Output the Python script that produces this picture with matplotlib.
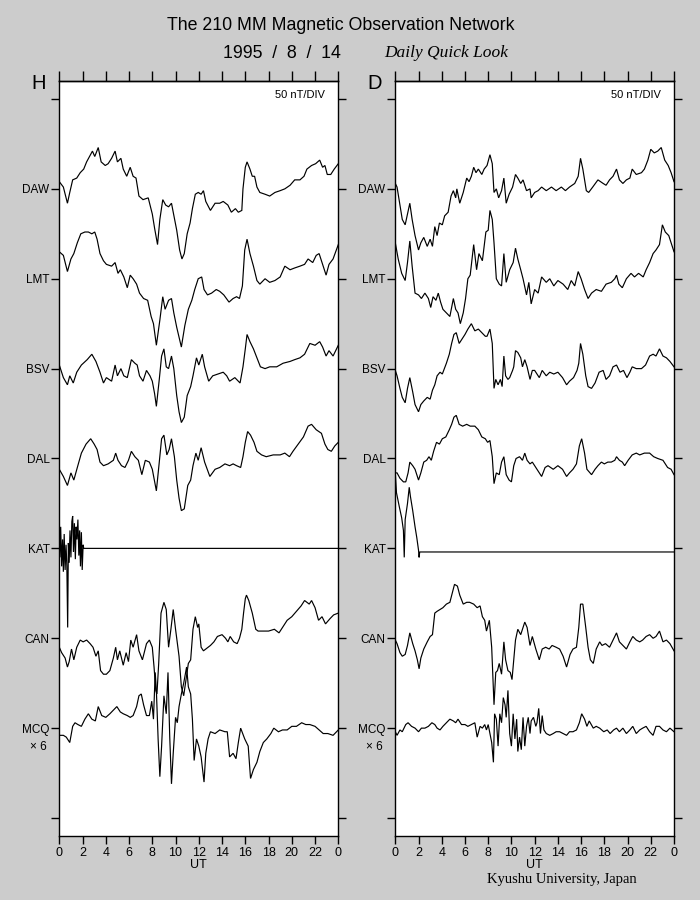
import matplotlib
matplotlib.use('Agg')
import matplotlib.pyplot as plt
import matplotlib.transforms as mtransforms

plt.rcParams['font.family'] = ['Liberation Sans', 'DejaVu Sans']

# ---------------- data ----------------
STATIONS = ['DAW', 'LMT', 'BSV', 'DAL', 'KAT', 'CAN', 'MCQ']
NT_PER_DIV = 50
XTICKS = list(range(0, 25, 2))
XTICK_LABELS = ['0', '2', '4', '6', '8', '10', '12', '14', '16', '18', '20', '22', '0']

# ---- H component (nT deviation from each station's baseline) ----
H_DAW_T = [0, 0.35, 0.7, 0.9, 1.15, 1.5, 1.8, 2.1, 2.35, 2.6, 2.85, 3.05, 3.35, 3.6, 3.95, 4.2, 4.5, 4.8, 5.0, 5.3, 5.5, 5.8, 6.1, 6.35, 6.6, 6.85, 7.2, 7.65, 8.0, 8.2, 8.45, 8.65, 8.9, 9.15, 9.4, 9.65, 9.8, 10.1, 10.35, 10.55, 10.75, 11.0, 11.25, 11.45, 11.7, 11.95, 12.2, 12.4, 12.6, 13.0, 13.4, 13.8, 14.1, 14.5, 14.8, 15.15, 15.4, 15.7, 15.8, 16.0, 16.15, 16.4, 16.6, 16.8, 17.0, 17.25, 17.7, 18.1, 18.55, 19.0, 19.4, 19.85, 20.25, 20.7, 21.05, 21.3, 21.7, 22.05, 22.4, 22.65, 22.85, 23.05, 23.35, 23.65, 24]
H_DAW = [4, 1, -8, -2, 5, 6, 9, 11, 15, 18, 21, 18, 23, 15, 13, 14, 17, 21, 15, 17, 11, 7, 12, 7, 6, -4, -6, -5, -14, -22, -31, -17, -6, -9, -10, -8, -13, -23, -34, -39, -36, -25, -19, -11, -3, -2, -3, -1, -7, -12, -8, -8, -7, -9, -13, -11, -13, -12, 0, 12, 15, 11, 7, 7, 1, -2, -3, -4, -2, -1, 0, 2, 5, 5, 7, 11, 13, 14, 16, 12, 13, 8, 8, 11, 14]

H_LMT_T = [0, 0.35, 0.7, 1.0, 1.25, 1.55, 1.85, 2.2, 2.5, 2.8, 3.05, 3.25, 3.5, 3.8, 4.05, 4.5, 4.8, 5.05, 5.25, 5.55, 5.85, 6.1, 6.35, 6.65, 6.9, 7.25, 7.6, 7.9, 8.1, 8.35, 8.65, 8.9, 9.1, 9.4, 9.65, 9.85, 10.1, 10.5, 10.8, 11.1, 11.4, 11.65, 11.95, 12.25, 12.45, 12.75, 13.1, 13.5, 13.8, 14.15, 14.6, 14.95, 15.25, 15.5, 15.75, 15.95, 16.15, 16.4, 16.7, 17.0, 17.25, 17.7, 18.1, 18.55, 19.0, 19.4, 19.85, 20.25, 20.7, 21.1, 21.4, 21.8, 22.1, 22.35, 22.6, 22.95, 23.2, 23.55, 24]
H_LMT = [15, 13, 4, 11, 14, 20, 25, 26, 26, 25, 26, 22, 14, 10, 8, 7, 9, 3, 5, 1, -5, 2, 0, -3, -8, -11, -12, -21, -25, -37, -23, -10, -17, -12, -11, -19, -27, -38, -26, -17, -12, -6, 0, 1, -6, -9, -8, -6, -7, -9, -13, -11, -10, -11, -4, 16, 22, 14, 7, -1, -3, 0, -2, -1, 1, 7, 5, 6, 7, 8, 11, 9, 13, 14, 9, 2, 8, 11, 19]

H_BSV_T = [0, 0.35, 0.7, 0.9, 1.2, 1.5, 1.9, 2.4, 2.8, 3.15, 3.5, 3.8, 4.05, 4.5, 4.8, 5.0, 5.3, 5.55, 5.85, 6.2, 6.5, 6.7, 6.9, 7.2, 7.5, 7.8, 8.0, 8.2, 8.35, 8.6, 8.8, 9.0, 9.2, 9.4, 9.65, 9.85, 10.1, 10.3, 10.5, 10.75, 11.0, 11.3, 11.5, 11.8, 12.0, 12.3, 12.5, 12.85, 13.2, 13.65, 14.1, 14.4, 14.65, 15.1, 15.55, 15.8, 16.0, 16.15, 16.4, 16.7, 17.0, 17.3, 17.7, 18.1, 18.7, 19.25, 19.85, 20.25, 20.7, 21.1, 21.55, 22.0, 22.4, 22.65, 22.95, 23.2, 23.55, 24]
H_BSV = [2, -5, -9, -4, -8, -2, 2, 5, 8, 4, -2, -8, -5, -7, 2, -4, 0, -4, -5, 5, 3, 2, -4, -7, -1, -4, -7, -14, -21, -6, 7, 11, 1, 0, 7, 0, -15, -24, -30, -27, -15, -10, -4, 6, 2, 8, 1, -7, -4, -3, -2, -4, -7, -5, -8, 1, 11, 19, 15, 11, 6, 1, 0, 1, 1, 3, 4, 5, 6, 8, 14, 13, 15, 12, 7, 10, 7, 13]

H_DAL_T = [0, 0.35, 0.7, 1.0, 1.25, 1.55, 1.9, 2.3, 2.7, 3.0, 3.25, 3.5, 3.8, 4.2, 4.65, 4.85, 5.05, 5.35, 5.65, 5.95, 6.2, 6.5, 6.8, 7.1, 7.4, 7.75, 8.0, 8.35, 8.6, 8.8, 9.0, 9.25, 9.45, 9.65, 9.9, 10.1, 10.3, 10.5, 10.75, 11.05, 11.3, 11.5, 11.75, 11.95, 12.2, 12.5, 12.95, 13.4, 13.8, 14.25, 14.65, 14.95, 15.25, 15.6, 15.8, 16.0, 16.2, 16.45, 16.75, 17.0, 17.4, 17.8, 18.4, 19.0, 19.4, 19.8, 20.1, 20.55, 21.0, 21.4, 21.7, 22.1, 22.55, 22.85, 23.1, 23.4, 23.7, 24]
H_DAL = [-6, -10, -15, -8, -12, -5, 3, 8, 11, 8, 5, -2, -4, -3, -1, 3, -1, -4, -5, -1, 4, 1, -1, -9, -1, -2, -6, -18, -2, 11, 13, 2, 5, 11, 1, -12, -22, -29, -28, -15, -12, -4, 3, -1, 6, -2, -10, -6, -5, -3, -4, -3, -4, -5, 1, 9, 15, 13, 9, 4, 2, 1, 2, 2, 3, 1, 4, 8, 12, 18, 19, 16, 14, 8, 5, 4, 7, 9]

H_KAT_T = [0, 0.05, 0.12, 0.2, 0.28, 0.35, 0.42, 0.5, 0.58, 0.65, 0.72, 0.78, 0.85, 0.92, 1.0, 1.08, 1.15, 1.22, 1.3, 1.38, 1.45, 1.52, 1.6, 1.68, 1.75, 1.82, 1.9, 1.97, 2.05, 2.1, 24]
H_KAT = [17, -5, 12, -10, 5, -13, 8, -12, 2, -10, -44, 3, -8, 10, -5, 15, 18, -2, 14, -6, 12, 5, 16, -4, 10, -10, 9, -12, 2, 0, 0]

H_CAN_T = [0, 0.2, 0.5, 0.7, 0.85, 1.05, 1.25, 1.5, 1.8, 2.05, 2.35, 2.65, 2.9, 3.15, 3.35, 3.55, 3.8, 4.05, 4.35, 4.65, 4.85, 5.0, 5.2, 5.5, 5.75, 5.95, 6.15, 6.35, 6.65, 6.85, 7.15, 7.5, 7.75, 8.0, 8.15, 8.3, 8.4, 8.55, 8.75, 9.0, 9.2, 9.4, 9.6, 9.8, 10.0, 10.3, 10.5, 10.7, 10.9, 11.1, 11.3, 11.5, 11.7, 11.9, 12.0, 12.2, 12.4, 12.6, 13.0, 13.3, 13.6, 14.0, 14.3, 14.5, 14.7, 15.0, 15.3, 15.5, 15.7, 15.85, 16.0, 16.1, 16.3, 16.6, 16.9, 17.1, 17.5, 18.0, 18.5, 18.9, 19.2, 19.6, 20.0, 20.4, 20.8, 21.1, 21.5, 21.7, 22.0, 22.3, 22.6, 22.9, 23.3, 23.6, 24]
H_CAN = [-5, -8, -11, -16, -13, -6, -12, -5, -1, -2, -1, -3, -5, -10, -7, -18, -20, -20, -18, -11, -5, -12, -7, -15, -8, -13, -1, -5, 2, -7, -12, -3, -1, -5, -16, -29, -31, -14, 14, 20, 16, -5, 5, 16, 5, -10, -27, -32, -23, -14, -12, 5, 12, 6, 8, -5, -7, -6, -4, -2, 1, 2, 0, -2, 1, -2, -3, 0, 5, 14, 22, 24, 21, 14, 5, 4, 4, 4, 5, 3, 6, 10, 12, 15, 18, 21, 19, 21, 17, 10, 12, 8, 11, 13, 14]

H_MCQ_T = [0, 0.35, 0.6, 0.9, 1.15, 1.35, 1.6, 1.9, 2.2, 2.5, 2.8, 3.1, 3.35, 3.65, 4.0, 4.35, 4.65, 4.95, 5.25, 5.5, 5.85, 6.1, 6.35, 6.65, 6.85, 7.05, 7.25, 7.5, 7.75, 7.95, 8.1, 8.25, 8.35, 8.5, 8.65, 8.8, 9.0, 9.2, 9.35, 9.5, 9.65, 9.8, 10.0, 10.15, 10.3, 10.5, 10.7, 10.95, 11.1, 11.3, 11.45, 11.6, 11.8, 12.0, 12.2, 12.45, 12.6, 12.8, 13.0, 13.4, 13.8, 14.25, 14.45, 14.65, 14.95, 15.2, 15.4, 15.6, 15.95, 16.25, 16.45, 16.7, 17.0, 17.25, 17.55, 17.85, 18.2, 18.45, 18.85, 19.2, 19.6, 20.0, 20.4, 20.85, 21.2, 21.55, 22.0, 22.35, 22.7, 23.1, 23.55, 24]
H_MCQ = [-4, -4, -5, -8, 1, 3, 2, 1, 5, 8, 5, 4, 12, 7, 6, 8, 10, 12, 9, 8, 7, 6, 7, 12, 18, 19, 13, 7, 7, 15, 5, 31, 21, -6, -27, -10, 18, 8, 31, -5, -31, -14, 6, 3, 12, 19, 25, 34, 23, 19, 5, -18, -6, -10, -16, -30, -14, -6, -2, -3, -1, -2, -2, -16, -14, -17, -8, 0, -6, -10, -28, -23, -19, -13, -8, -6, -3, 0, -2, -1, -1, 1, 1, 3, 2, 2, 1, -1, -3, -3, -4, -1]

# ---- D component ----
D_DAW_T = [0, 0.15, 0.4, 0.6, 0.85, 1.05, 1.25, 1.45, 1.7, 2.0, 2.2, 2.45, 2.75, 3.0, 3.2, 3.4, 3.6, 3.8, 4.05, 4.25, 4.55, 4.8, 5.0, 5.2, 5.3, 5.55, 5.85, 6.15, 6.35, 6.55, 6.75, 6.95, 7.15, 7.45, 7.65, 7.9, 8.15, 8.35, 8.5, 8.7, 8.9, 9.15, 9.35, 9.55, 9.8, 10.1, 10.35, 10.55, 10.8, 11.0, 11.3, 11.6, 11.7, 12.0, 12.3, 12.6, 13.0, 13.45, 13.85, 14.3, 14.65, 15.0, 15.45, 15.75, 15.95, 16.15, 16.45, 16.65, 17.0, 17.45, 17.9, 18.15, 18.45, 18.75, 19.05, 19.3, 19.6, 19.9, 20.2, 20.4, 20.75, 21.2, 21.45, 21.75, 22.0, 22.3, 22.6, 22.9, 23.2, 23.5, 23.75, 24]
D_DAW = [3, 1, -9, -17, -20, -14, -8, -17, -26, -34, -30, -27, -32, -28, -32, -21, -26, -19, -20, -15, -13, -4, -1, -5, 0, -8, -2, 6, 4, 7, 12, 9, 11, 8, 11, 13, 19, 14, -2, 0, -5, -1, 6, -8, -3, 1, 8, 6, 3, 5, -1, 0, -5, -2, -1, 1, -1, 1, -1, 1, -1, 1, 3, 7, 17, 11, -1, -2, 1, 5, 3, 2, 5, 7, 11, 5, 3, 5, 6, 11, 8, 9, 11, 16, 22, 20, 21, 23, 16, 13, 9, 4]

D_LMT_T = [0, 0.25, 0.55, 0.85, 1.05, 1.25, 1.45, 1.7, 2.0, 2.25, 2.55, 2.85, 3.05, 3.25, 3.5, 3.7, 3.9, 4.1, 4.4, 4.7, 5.0, 5.2, 5.4, 5.6, 5.85, 6.05, 6.25, 6.45, 6.75, 7.0, 7.2, 7.5, 7.8, 8.0, 8.15, 8.35, 8.5, 8.7, 8.95, 9.15, 9.35, 9.55, 9.85, 10.15, 10.35, 10.55, 10.8, 11.0, 11.3, 11.5, 11.7, 12.0, 12.3, 12.6, 13.0, 13.3, 13.65, 14.0, 14.45, 14.85, 15.15, 15.45, 15.75, 16.0, 16.3, 16.6, 16.9, 17.3, 17.75, 18.15, 18.6, 18.9, 19.05, 19.25, 19.55, 19.9, 20.3, 20.6, 20.95, 21.35, 21.6, 21.9, 22.2, 22.45, 22.75, 23.0, 23.25, 23.55, 23.75, 24]
D_LMT = [20, 11, 3, -1, 9, 21, 7, -8, -9, -11, -8, -11, -16, -10, -12, -8, -13, -17, -19, -21, -11, -17, -19, -25, -19, -11, 0, 2, 19, 5, 14, 10, 26, 27, 38, 33, 20, 0, -3, -4, 14, -2, 5, 9, 17, 11, 5, 0, -9, -2, -14, -6, -8, 1, -2, 0, -4, -1, -3, -6, -1, -4, 4, 0, -6, -11, -8, -6, -7, -3, -2, 0, 2, -3, -5, 0, 3, 1, 3, 1, 5, 9, 14, 16, 19, 30, 26, 24, 20, 15]

D_BSV_T = [0, 0.15, 0.4, 0.6, 0.85, 1.05, 1.25, 1.5, 1.7, 2.0, 2.2, 2.45, 2.75, 3.0, 3.2, 3.4, 3.6, 3.85, 4.05, 4.4, 4.65, 4.85, 5.05, 5.25, 5.5, 5.7, 6.0, 6.25, 6.55, 6.85, 7.15, 7.45, 7.75, 7.9, 8.15, 8.35, 8.5, 8.65, 8.85, 9.05, 9.2, 9.35, 9.5, 9.7, 9.85, 10.1, 10.2, 10.35, 10.55, 10.8, 10.95, 11.15, 11.35, 11.6, 11.8, 12.0, 12.4, 12.65, 13.0, 13.3, 13.65, 14.0, 14.4, 14.75, 15.0, 15.35, 15.65, 15.8, 15.95, 16.15, 16.4, 16.6, 16.9, 17.2, 17.55, 17.9, 18.15, 18.45, 18.75, 19.05, 19.35, 19.65, 19.95, 20.2, 20.4, 20.75, 21.2, 21.55, 21.9, 22.2, 22.45, 22.75, 23.05, 23.35, 23.65, 24]
D_BSV = [-1, -4, -11, -16, -19, -11, -5, -13, -20, -24, -20, -18, -16, -17, -12, -9, -4, -2, -3, 3, 8, 14, 19, 20, 14, 16, 19, 22, 25, 21, 22, 20, 18, 18, 22, 14, -11, -6, -9, -6, -10, 7, -4, -6, -5, -1, 1, 10, 9, 6, 1, 5, 1, -6, -1, -1, -5, -1, -4, -2, -3, -2, -5, -9, -7, -5, -1, 3, 14, 8, -4, -10, -11, -8, -2, -1, -6, -4, 1, 2, -2, -1, -5, -2, 1, 0, 0, 2, 7, 8, 7, 11, 7, 6, 4, 1]

D_DAL_T = [0, 0.15, 0.4, 0.7, 0.9, 1.1, 1.25, 1.5, 1.7, 2.0, 2.2, 2.45, 2.7, 2.9, 3.1, 3.3, 3.55, 3.8, 4.05, 4.35, 4.65, 4.85, 5.05, 5.25, 5.5, 5.8, 6.15, 6.45, 6.85, 7.15, 7.45, 7.75, 7.95, 8.15, 8.35, 8.5, 8.7, 8.95, 9.15, 9.35, 9.55, 9.8, 10.0, 10.2, 10.4, 10.7, 10.95, 11.15, 11.35, 11.6, 11.8, 12.0, 12.3, 12.6, 12.9, 13.15, 13.6, 14.0, 14.4, 14.75, 15.0, 15.3, 15.6, 15.85, 16.05, 16.3, 16.5, 16.9, 17.2, 17.45, 17.75, 18.0, 18.3, 18.6, 18.9, 19.05, 19.3, 19.55, 19.75, 20.05, 20.4, 20.75, 21.05, 21.45, 21.9, 22.25, 22.6, 23.05, 23.45, 23.75, 24]
D_DAL = [-8, -8, -11, -13, -13, -8, -2, -4, -6, -12, -8, -2, -1, 1, -1, 4, 9, 8, 11, 12, 16, 19, 23, 24, 19, 18, 19, 18, 18, 16, 12, 11, 9, 10, 1, -14, -8, -9, -2, 1, -9, -12, -13, -4, 0, 1, -1, 3, -1, -3, -2, -4, -7, -10, -5, -4, -6, -4, -6, -10, -8, -6, -3, 7, 11, 3, -6, -9, -6, -4, -2, -3, -2, -2, -1, 1, -1, -2, -4, -1, 2, 3, 2, 3, 3, 1, 0, -1, -5, -6, -9]

D_KAT_T = [0, 0.1, 0.35, 0.55, 0.7, 0.77, 0.85, 1.05, 1.2, 1.3, 1.5, 1.7, 1.85, 2.0, 2.05, 2.1, 24]
D_KAT = [42, 31, 23, 17, 10, -5, 16, 25, 34, 29, 21, 12, 6, -1, -5, -2, -2]

D_CAN_T = [0, 0.15, 0.4, 0.6, 0.85, 1.05, 1.25, 1.5, 1.7, 1.9, 2.05, 2.2, 2.45, 2.75, 3.0, 3.2, 3.4, 3.6, 3.85, 4.1, 4.4, 4.7, 4.9, 5.1, 5.35, 5.55, 5.85, 6.15, 6.4, 6.75, 7.05, 7.3, 7.5, 7.7, 7.85, 8.1, 8.3, 8.5, 8.65, 8.8, 8.95, 9.15, 9.35, 9.5, 9.7, 9.9, 10.05, 10.2, 10.35, 10.55, 10.8, 10.95, 11.15, 11.35, 11.6, 11.8, 12.1, 12.4, 12.65, 12.95, 13.25, 13.5, 13.85, 14.15, 14.45, 14.75, 15.05, 15.3, 15.6, 15.8, 15.95, 16.15, 16.4, 16.6, 16.8, 17.05, 17.3, 17.6, 17.8, 18.1, 18.45, 18.75, 19.05, 19.3, 19.6, 19.9, 20.2, 20.45, 20.75, 21.05, 21.3, 21.6, 21.9, 22.2, 22.45, 22.75, 23.05, 23.35, 23.65, 24]
D_CAN = [-1, -3, -8, -10, -9, -4, 3, -3, -7, -12, -17, -11, -6, -2, 1, 2, 14, 15, 16, 17, 19, 20, 25, 30, 29, 24, 19, 20, 20, 19, 17, 18, 12, 10, 4, 10, -5, -37, -19, -18, -14, -20, -2, -12, -18, -19, -23, -12, -1, 5, 2, 5, 9, 6, -4, 1, -6, -12, -6, -5, -6, -4, -5, -6, -10, -16, -9, -6, -5, 6, 19, 19, 6, -5, -12, -14, -6, -2, -4, -3, -5, -1, 3, -2, -4, -6, -2, 1, -1, -2, -1, 1, 2, 0, 1, 4, -2, -1, -3, -7]

D_MCQ_T = [0, 0.15, 0.4, 0.6, 0.9, 1.1, 1.4, 1.7, 2.0, 2.25, 2.55, 2.85, 3.15, 3.4, 3.6, 3.85, 4.1, 4.4, 4.7, 5.0, 5.2, 5.4, 5.7, 6.0, 6.25, 6.55, 6.85, 7.05, 7.3, 7.5, 7.7, 7.85, 8.0, 8.15, 8.3, 8.45, 8.55, 8.7, 8.85, 9.0, 9.15, 9.3, 9.45, 9.55, 9.7, 9.85, 10.0, 10.15, 10.3, 10.45, 10.55, 10.7, 10.85, 11.0, 11.15, 11.3, 11.45, 11.6, 11.7, 11.9, 12.1, 12.2, 12.35, 12.5, 12.65, 12.8, 13.0, 13.3, 13.6, 13.85, 14.15, 14.45, 14.75, 15.0, 15.3, 15.6, 15.85, 16.05, 16.3, 16.5, 16.7, 17.05, 17.3, 17.6, 17.95, 18.25, 18.5, 18.8, 19.05, 19.3, 19.6, 19.9, 20.2, 20.45, 20.75, 21.05, 21.3, 21.6, 21.9, 22.2, 22.45, 22.75, 23.05, 23.35, 23.65, 24]
D_MCQ = [-2, -4, -1, -2, 2, 3, 1, 0, -2, 0, 0, 1, 3, 2, 0, -1, 1, 3, 5, 4, 3, 5, 2, 2, 1, 2, 3, -5, 1, 0, 2, -1, 2, -3, -8, -19, 8, 5, -10, 8, 3, 17, 13, 6, 21, -3, -10, 8, -6, 5, -13, -5, -12, 6, -10, 1, 6, -3, 4, 6, 1, 3, 11, -3, 7, -1, -3, -4, -3, -2, -2, -3, -4, -2, -2, -1, 3, 8, 5, 1, 4, 0, 1, 0, -2, -1, -3, -1, 0, -2, 0, -3, -1, 1, -3, -1, 0, 1, -2, -4, 1, 1, -1, -2, 0, -2]

H_TRACES = [(H_DAW_T, H_DAW), (H_LMT_T, H_LMT), (H_BSV_T, H_BSV), (H_DAL_T, H_DAL),
            (H_KAT_T, H_KAT), (H_CAN_T, H_CAN), (H_MCQ_T, H_MCQ)]
D_TRACES = [(D_DAW_T, D_DAW), (D_LMT_T, D_LMT), (D_BSV_T, D_BSV), (D_DAL_T, D_DAL),
            (D_KAT_T, D_KAT), (D_CAN_T, D_CAN), (D_MCQ_T, D_MCQ)]

# ---------------- figure ----------------
BG = '#cccccc'
fig = plt.figure(figsize=(7, 9), dpi=100, facecolor=BG)

W, H = 700.0, 900.0
axH = fig.add_axes([59.3 / W, 1 - 836 / H, 279.0 / W, 755 / H])
axD = fig.add_axes([395.3 / W, 1 - 836 / H, 278.7 / W, 755 / H])


def draw(ax, traces, comp):
    n_st = len(STATIONS)
    for i, (t, v) in enumerate(traces):
        base = -NT_PER_DIV * (i + 1)
        n = min(len(t), len(v))
        ax.plot(t[:n], [base + x for x in v[:n]], color='black', lw=0.85,
                solid_joinstyle='miter')
    ax.set_facecolor('white')
    ax.set_xlim(0, 24)
    ax.set_ylim(-NT_PER_DIV * (n_st + 1) - 10, 10)
    ax.set_xticks(XTICKS)
    ax.set_xticklabels(XTICK_LABELS)
    ax.set_yticks([-NT_PER_DIV * k for k in range(n_st + 2)])
    ax.set_yticklabels([''] + STATIONS + [''])
    for sp in ax.spines.values():
        sp.set_linewidth(1.0)
        sp.set_color('black')
    ax.tick_params(axis='y', direction='out', length=6, width=1, left=True,
                   right=True, pad=1, labelsize=8.5)
    ax.tick_params(axis='x', direction='out', length=6, width=1, bottom=True,
                   top=False, pad=2, labelsize=9)
    sec = ax.secondary_xaxis('top')
    sec.set_xticks(XTICKS)
    sec.tick_params(axis='x', direction='out', length=7.5, width=1, labeltop=False)
    sec.spines['top'].set_linewidth(1.0)
    ax.set_xlabel('UT', fontsize=9, labelpad=0)
    ax.text(0.952, 0.981, '50 nT/DIV', transform=ax.transAxes, ha='right',
            va='center', fontsize=8)
    ax.text(-0.073, 0.997, comp, transform=ax.transAxes, ha='center',
            va='center', fontsize=14.5)
    trans = mtransforms.blended_transform_factory(ax.transAxes, ax.transData)
    ax.text(-0.044, -NT_PER_DIV * n_st - 10.5, '\u00d7 6', transform=trans,
            ha='right', va='center', fontsize=8.5)


draw(axH, H_TRACES, 'H')
draw(axD, D_TRACES, 'D')

fig.text(341 / W, 1 - 25 / H, 'The 210 MM Magnetic Observation Network',
         ha='center', va='center', fontsize=12.75)
fig.text(282 / W, 1 - 53 / H, '1995  /  8  /  14', ha='center', va='center',
         fontsize=12.75)
fig.text(446 / W, 1 - 53 / H, 'Daily Quick Look', ha='center', va='center',
         fontsize=12.5, family=['Liberation Serif', 'DejaVu Serif'], style='italic')
fig.text(562 / W, 1 - 880 / H, 'Kyushu University, Japan', ha='center',
         va='center', fontsize=10.5, family=['Liberation Serif', 'DejaVu Serif'])

fig.savefig('out.png', dpi=100, facecolor=BG)
